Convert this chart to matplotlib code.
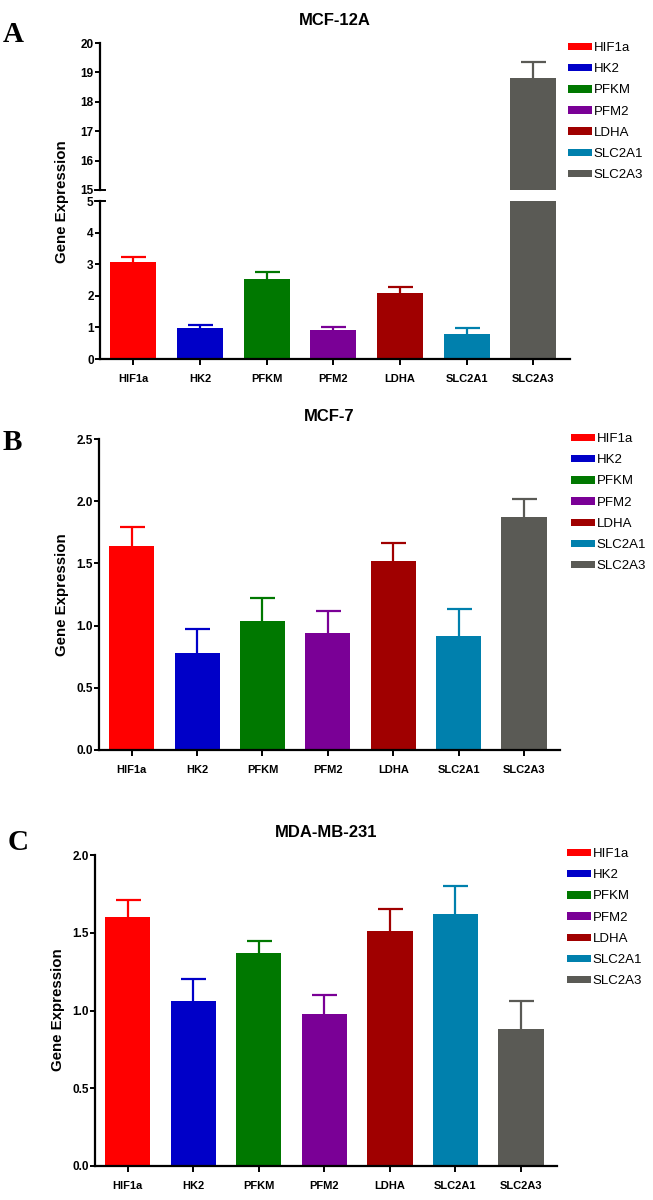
import numpy as np
import matplotlib.pyplot as plt

plt.rcParams['font.family'] = ['Liberation Sans', 'DejaVu Sans']

# genes and colours (same order in every panel)
genes = ["HIF1a", "HK2", "PFKM", "PFM2", "LDHA", "SLC2A1", "SLC2A3"]
colors = ["#ff0000", "#0000c8", "#007800", "#7a0096", "#a00000", "#0080ad", "#5a5a55"]

# values: mean and upper error
mcf12a_mean = [3.08, 0.97, 2.53, 0.92, 2.08, 0.78, 18.82]
mcf12a_err = [0.16, 0.11, 0.21, 0.10, 0.19, 0.21, 0.54]

mcf7_mean = [1.64, 0.78, 1.04, 0.94, 1.52, 0.92, 1.87]
mcf7_err = [0.15, 0.19, 0.18, 0.18, 0.14, 0.21, 0.15]

mda_mean = [1.60, 1.06, 1.37, 0.98, 1.51, 1.62, 0.88]
mda_err = [0.11, 0.14, 0.08, 0.12, 0.14, 0.18, 0.18]

W, H = 653, 1200
fig = plt.figure(figsize=(W / 100, H / 100), dpi=100)


def px_axes(left, top, right, bottom):
    # pixel box -> figure fraction
    return fig.add_axes([left / W, 1 - bottom / H, (right - left) / W, (bottom - top) / H])


def style(ax, xaxis=True):
    for s in ["top", "right"]:
        ax.spines[s].set_visible(False)
    ax.spines["left"].set_linewidth(1.6)
    ax.spines["bottom"].set_linewidth(1.6)
    ax.tick_params(axis="y", direction="out", width=1.4, length=3.5, labelsize=8.5, pad=1)
    ax.tick_params(axis="x", direction="out", width=1.4, length=4.5, labelsize=8, pad=6)
    for lab in ax.get_yticklabels():
        lab.set_fontweight("bold")
    ax.set_xlim(-0.5, 6.55)
    if xaxis:
        ax.set_xticks(range(len(genes)))
        ax.set_xticklabels(genes, fontweight="bold")
    else:
        ax.spines["bottom"].set_visible(False)
        ax.set_xticks([])


def draw_bars(ax, means, errs):
    x = np.arange(len(genes))
    for i in range(len(genes)):
        ax.bar(x[i], means[i], 0.69, color=colors[i], label=genes[i], zorder=2)
        eb = ax.errorbar(x[i], means[i], yerr=[[0], [errs[i]]], color=colors[i], capsize=9,
                         elinewidth=1.6, capthick=1.6, zorder=1)
        # only the upper cap is drawn in the original
        eb[1][0].set_visible(False)


def add_legend(ax, left, top):
    h, l = ax.get_legend_handles_labels()
    fig.legend(h, l, loc="upper left", bbox_to_anchor=(left / W, 1 - top / H),
               frameon=False, borderpad=0, borderaxespad=0, fontsize=9.5,
               handlelength=1.8, handleheight=0.5, handletextpad=0.15, labelspacing=0.7)


def panel_text(x, y, letter, letter_x, letter_y):
    fig.text(x / W, 1 - y / H, "Gene Expression", rotation=90, ha="center", va="center",
             fontsize=10.8, fontweight="bold")
    fig.text(letter_x / W, 1 - letter_y / H, letter, family="Liberation Serif", fontsize=21,
             fontweight="bold", ha="left", va="center")


# ---- A: MCF-12A, broken y axis
ax_top = px_axes(100, 43, 570, 190)
ax_bot = px_axes(100, 201, 570, 359)
draw_bars(ax_top, mcf12a_mean, mcf12a_err)
draw_bars(ax_bot, mcf12a_mean, mcf12a_err)
ax_top.set_ylim(15, 20)
ax_top.set_yticks(range(15, 21))
ax_bot.set_ylim(0, 5)
ax_bot.set_yticks(range(0, 6))
style(ax_top, xaxis=False)
style(ax_bot)
ax_top.plot([-0.011, 0.011], [0, 0], transform=ax_top.transAxes, color="k", lw=1.4, clip_on=False)
ax_bot.plot([-0.011, 0.011], [1, 1], transform=ax_bot.transAxes, color="k", lw=1.4, clip_on=False)
ax_top.set_title("MCF-12A", fontsize=12, fontweight="bold", pad=13)
add_legend(ax_bot, 568, 42)
panel_text(62, 202, "A", 3, 34)

# ---- B: MCF-7
ax_b = px_axes(99, 439, 560, 750)
draw_bars(ax_b, mcf7_mean, mcf7_err)
ax_b.set_ylim(0, 2.5)
ax_b.set_yticks(np.arange(0, 2.51, 0.5))
ax_b.set_yticklabels(["0.0", "0.5", "1.0", "1.5", "2.0", "2.5"])
style(ax_b)
ax_b.set_title("MCF-7", fontsize=12, fontweight="bold", pad=13)
add_legend(ax_b, 571, 433)
panel_text(62, 595, "B", 3, 442)

# ---- C: MDA-MB-231
ax_c = px_axes(95, 855, 557, 1166)
draw_bars(ax_c, mda_mean, mda_err)
ax_c.set_ylim(0, 2.0)
ax_c.set_yticks(np.arange(0, 2.01, 0.5))
ax_c.set_yticklabels(["0.0", "0.5", "1.0", "1.5", "2.0"])
style(ax_c)
ax_c.set_title("MDA-MB-231", fontsize=12, fontweight="bold", pad=13)
add_legend(ax_c, 567, 848)
panel_text(58, 1010, "C", 8, 843)

fig.savefig("out.png", dpi=100)
